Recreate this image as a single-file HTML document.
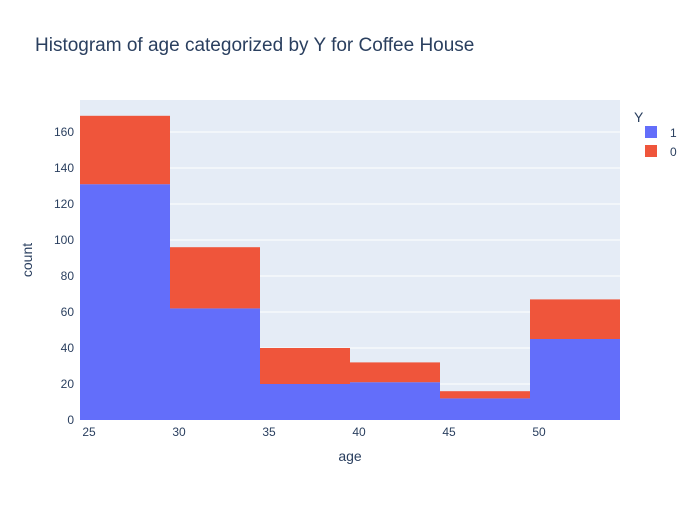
<!DOCTYPE html>
<html><head><meta charset="utf-8"><style>
body{margin:0;background:#fff;font-family:"Liberation Sans",Arial,sans-serif;}
</style></head><body>
<svg id="chart" width="700" height="500" xmlns="http://www.w3.org/2000/svg" font-family="Liberation Sans, Arial, sans-serif">
<rect width="700" height="500" fill="#fff"/>
<text x="35" y="51" font-size="19" fill="#2a3f5f">Histogram of age categorized by Y for Coffee House</text>
<rect x="80" y="100" width="540" height="320" fill="#e5ecf6"/>
<g id="grid"></g><g id="bars"></g><g id="ticks"></g>
<text x="350" y="461" font-size="14" fill="#2a3f5f" text-anchor="middle">age</text>
<text x="0" y="0" font-size="14" fill="#2a3f5f" text-anchor="middle" transform="translate(32,260) rotate(-90)">count</text>
<g>
<text x="634" y="122" font-size="14" fill="#2a3f5f">Y</text>
<g><rect x="645" y="126" width="12" height="12" fill="#636efa"/><text x="670" y="137" font-size="12" fill="#2a3f5f">1</text></g>
<g><rect x="645" y="145" width="12" height="12" fill="#ef553b"/><text x="670" y="156" font-size="12" fill="#2a3f5f">0</text></g>
</g>
</svg>
<script>
const binStarts=[24.5,29.5,34.5,39.5,44.5,49.5];
const binWidth=5;
const series1=[131,62,20,21,12,45];
const series0=[38,34,20,11,4,22];
const xTicks=[25,30,35,40,45,50];
const yTicks=[0,20,40,60,80,100,120,140,160];
const NS="http://www.w3.org/2000/svg";
const X=v=>80+(v-24.5)*18;
const Y=v=>420-v*1.8;
function mk(t,a,p){const e=document.createElementNS(NS,t);for(const k in a)e.setAttribute(k,a[k]);p.appendChild(e);return e;}
const grid=document.getElementById('grid'),bars=document.getElementById('bars'),ticks=document.getElementById('ticks');
yTicks.forEach(v=>{
 if(v>0){const l=mk('line',{x1:80,x2:620,y1:Y(v),y2:Y(v),stroke:'#fff','stroke-width':1},grid);
 
 }
 const t=mk('text',{x:74,y:Y(v)+4,'font-size':12,fill:'#2a3f5f','text-anchor':'end'},ticks);t.textContent=v;
 
 
});
xTicks.forEach(v=>{
 const t=mk('text',{x:X(v),y:436,'font-size':12,fill:'#2a3f5f','text-anchor':'middle'},ticks);t.textContent=v;
 
 
});
binStarts.forEach((s,i)=>{
 const x=X(s),w=X(s+binWidth)-x;
 const b=mk('rect',{x:x,y:Y(series1[i]),width:w,height:Y(0)-Y(series1[i]),fill:'#636efa'},bars);
 
 
 const r=mk('rect',{x:x,y:Y(series1[i]+series0[i]),width:w,height:Y(series1[i])-Y(series1[i]+series0[i]),fill:'#ef553b'},bars);
 
 
});
</script>
</body></html>
